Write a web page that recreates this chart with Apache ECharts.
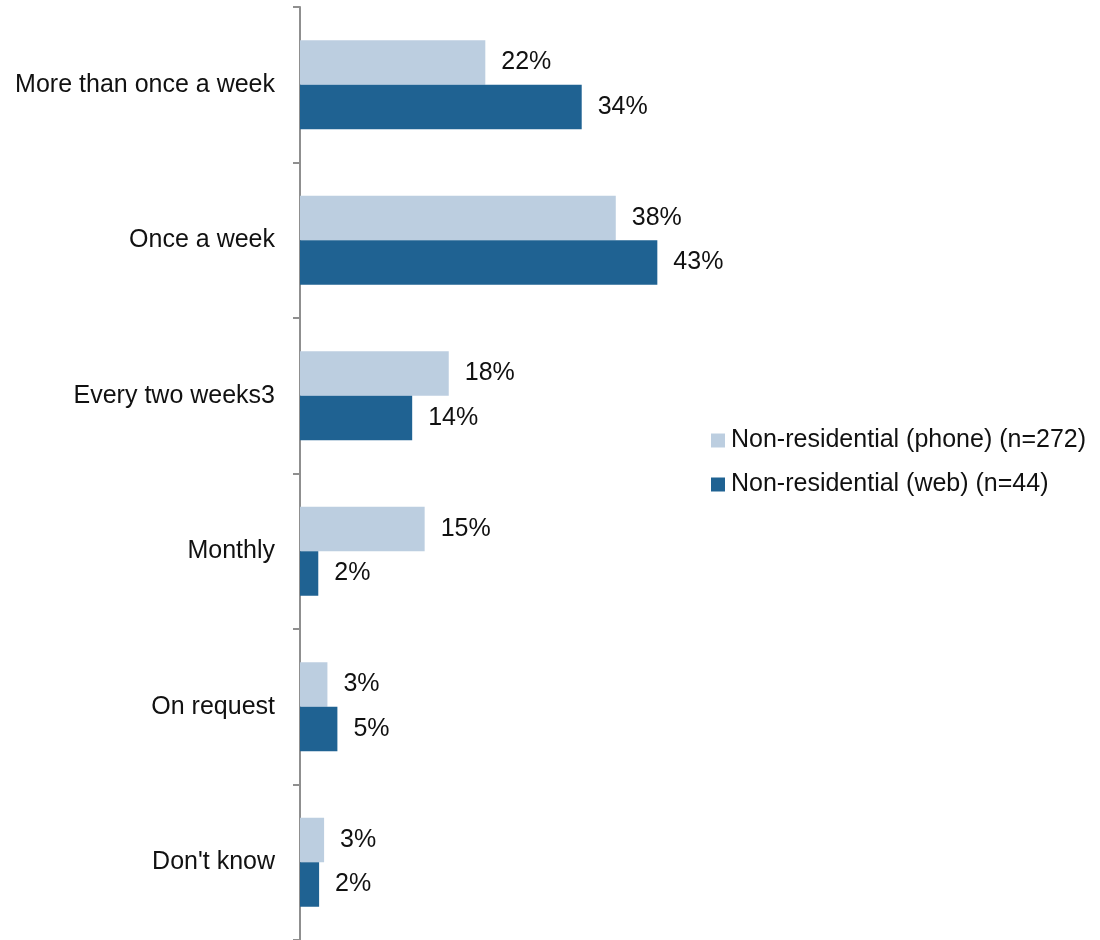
<!DOCTYPE html>
<html>
<head>
<meta charset="utf-8">
<script src="https://cdn.jsdelivr.net/npm/echarts@6/dist/echarts.min.js"></script>
<style>
html,body{margin:0;padding:0;background:#fff;}
#chart{width:1100px;height:940px;}
</style>
</head>
<body>
<div id="chart"></div>
<script>
var categories = ['More than once a week', 'Once a week', 'Every two weeks3', 'Monthly', 'On request', "Don't know"];
var seriesNames = ['Non-residential (phone) (n=272)', 'Non-residential (web) (n=44)'];
var phoneValues = [22.3, 38.0, 17.9, 15.0, 3.3, 2.9];
var webValues = [33.9, 43.0, 13.5, 2.2, 4.5, 2.3];
var colors = ['#BCCEE0', '#1F6292'];

var font = 'Liberation Sans';
var chart = echarts.init(document.getElementById('chart'), null, {renderer: 'canvas'});

function labelCfg() {
  return {
    show: true,
    position: 'right',
    distance: 16,
    fontFamily: font,
    fontSize: 25,
    color: '#111',
    padding: [6, 0, 0, 0],
    formatter: function (p) { return Math.round(p.value) + '%'; }
  };
}

chart.setOption({
  animation: false,
  backgroundColor: '#fff',
  grid: {left: 300, top: 7, width: 415.5, height: 937, containLabel: false},
  legend: {
    orient: 'vertical',
    left: 706,
    top: 423,
    itemWidth: 14,
    itemHeight: 14,
    itemGap: 19,
    icon: 'rect',
    textStyle: {fontFamily: font, fontSize: 25, color: '#111', padding: [0, 0, 0, 1]},
    data: seriesNames
  },
  xAxis: {
    type: 'value',
    min: 0,
    max: 50,
    show: false
  },
  yAxis: {
    type: 'category',
    inverse: true,
    data: categories,
    axisLine: {show: true, lineStyle: {color: '#8f8f8f', width: 2}},
    axisTick: {show: true, length: 7, lineStyle: {color: '#8f8f8f', width: 2}},
    axisLabel: {margin: 25, fontFamily: font, fontSize: 25, color: '#111', padding: [5, 0, 0, 0]},
    splitLine: {show: false}
  },
  series: [
    {
      name: seriesNames[0],
      type: 'bar',
      data: phoneValues,
      barWidth: 44.5,
      barGap: '0%',
      itemStyle: {color: colors[0]},
      label: labelCfg()
    },
    {
      name: seriesNames[1],
      type: 'bar',
      data: webValues,
      barWidth: 44.5,
      barGap: '0%',
      itemStyle: {color: colors[1]},
      label: labelCfg()
    }
  ]
});
</script>
</body>
</html>
